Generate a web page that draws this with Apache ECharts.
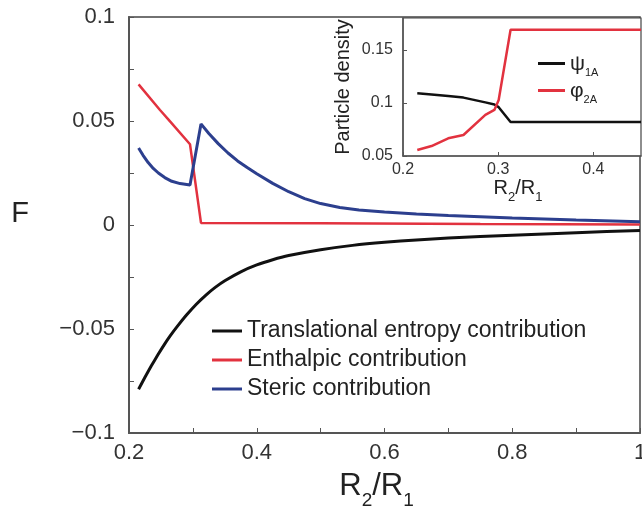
<!DOCTYPE html>
<html>
<head>
<meta charset="utf-8">
<script src="https://cdn.jsdelivr.net/npm/echarts@6/dist/echarts.min.js"></script>
<style>html,body{margin:0;padding:0;background:#fff;}#c{width:642px;height:510px;}</style>
</head>
<body>
<div id="c"></div>
<script>
// ---- main panel data ----
const transX = [0.215, 0.225, 0.235, 0.245, 0.255, 0.265, 0.275, 0.29, 0.305, 0.32, 0.335, 0.35, 0.375, 0.4, 0.425, 0.45, 0.5, 0.55, 0.6, 0.65, 0.7, 0.8, 0.9, 1.0];
const transY = [-0.079, -0.0732, -0.0677, -0.0625, -0.0576, -0.0531, -0.049, -0.0433, -0.0382, -0.0338, -0.030, -0.0268, -0.0225, -0.0192, -0.0167, -0.0147, -0.0119, -0.0098, -0.0083, -0.0072, -0.0063, -0.0049, -0.0037, -0.0026];
const enthX = [0.215, 0.2485, 0.2615, 0.2955, 0.3127, 0.5, 0.75, 1.0];
const enthY = [0.0676, 0.0553, 0.0508, 0.0388, 0.001, 0.0008, 0.0005, 0.0003];
const stericX = [0.215, 0.222, 0.23, 0.238, 0.246, 0.256, 0.267, 0.28, 0.2955, 0.3127, 0.325, 0.34, 0.355, 0.37, 0.385, 0.4, 0.425, 0.45, 0.475, 0.5, 0.53, 0.56, 0.6, 0.65, 0.7, 0.8, 0.9, 1.0];
const stericY = [0.037, 0.0335, 0.030, 0.0272, 0.025, 0.0228, 0.021, 0.0199, 0.0192, 0.0486, 0.044, 0.039, 0.0346, 0.0308, 0.0276, 0.0246, 0.020, 0.016, 0.0127, 0.0103, 0.0084, 0.0072, 0.0062, 0.0053, 0.0046, 0.0034, 0.0024, 0.0016];
const mainNames = ['Translational entropy contribution', 'Enthalpic contribution', 'Steric contribution'];
const mainXTicks = [0.2, 0.4, 0.6, 0.8, 1];
const mainYTicks = [-0.1, -0.05, 0, 0.05, 0.1];

// ---- inset data ----
const insetX = [0.215, 0.23, 0.2475, 0.2635, 0.2865, 0.296, 0.3005, 0.313, 0.45];
const psi1A = [0.109, 0.108, 0.1065, 0.105, 0.1005, 0.0985, 0.096, 0.082, 0.082];
const phi2A = [0.0557, 0.0594, 0.0667, 0.0698, 0.0887, 0.0934, 0.1028, 0.169, 0.169];
const insetNames = ['psi1A', 'phi2A'];
const insetXTicks = [0.2, 0.3, 0.4];
const insetYTicks = [0.05, 0.1, 0.15];

const pair = (xs, ys) => xs.map((x, i) => [x, ys[i]]);
const fmtMinus = v => String(v).replace('-', '\u2212');
const FONT = 'Liberation Sans, Arial, Helvetica, sans-serif';
const BLACK = '#111111', RED = '#e2323f', BLUE = '#2c3f8e';

const chart = echarts.init(document.getElementById('c'), null, {renderer: 'canvas'});
chart.setOption({
  animation: false,
  backgroundColor: '#fff',
  textStyle: {fontFamily: FONT},
  grid: [
    {left: 129, top: 17, right: 2, bottom: 77, show: true, borderColor: '#444', borderWidth: 1.5, containLabel: false, outerBoundsMode: 'none'},
    {left: 403, top: 18, width: 238, height: 138, show: true, borderColor: '#444', borderWidth: 1.2, backgroundColor: '#fff', containLabel: false, outerBoundsMode: 'none'}
  ],
  xAxis: [
    {gridIndex: 0, type: 'value', min: 0.2, max: 1, interval: 0.2,
     axisLine: {onZero: false, lineStyle: {color: '#555', width: 2}},
     axisTick: {inside: true, length: 5, lineStyle: {color: '#555'}},
     minorTick: {show: true, splitNumber: 2, length: 5, lineStyle: {color: '#555'}},
     splitLine: {show: false},
     axisLabel: {fontSize: 22, color: '#333', margin: 9, formatter: v => mainXTicks.includes(+v.toFixed(2)) ? String(+v.toFixed(2)) : ''},
     name: '{r|R}{s|2}{r|/R}{s|1}', nameLocation: 'middle', nameGap: 35,
     nameTextStyle: {padding: [0, 16, 0, 0], rich: {
       r: {fontSize: 31, color: '#222', fontFamily: FONT, lineHeight: 34, verticalAlign: 'bottom'},
       s: {fontSize: 19, color: '#222', fontFamily: FONT, lineHeight: 34, verticalAlign: 'bottom', padding: [0, 0, -8, 0]}
     }}},
    {gridIndex: 1, type: 'value', min: 0.2, max: 0.45, interval: 0.1,
     axisLine: {onZero: false, lineStyle: {color: '#555', width: 1.5}},
     axisTick: {inside: true, length: 4, lineStyle: {color: '#555'}},
     splitLine: {show: false},
     axisLabel: {fontSize: 16, color: '#333', margin: 6, showMaxLabel: false, formatter: v => insetXTicks.includes(+v.toFixed(2)) ? String(+v.toFixed(2)) : ''},
     name: '{r|R}{s|2}{r|/R}{s|1}', nameLocation: 'middle', nameGap: 18,
     nameTextStyle: {padding: [0, 8, 0, 0], rich: {
       r: {fontSize: 20, color: '#222', fontFamily: FONT, lineHeight: 24, verticalAlign: 'bottom'},
       s: {fontSize: 13, color: '#222', fontFamily: FONT, lineHeight: 24, verticalAlign: 'bottom', padding: [0, 0, -5, 0]}
     }}}
  ],
  yAxis: [
    {gridIndex: 0, type: 'value', min: -0.1, max: 0.1, interval: 0.05,
     axisLine: {onZero: false, lineStyle: {color: '#555', width: 2}},
     axisTick: {inside: true, length: 5, lineStyle: {color: '#555'}},
     minorTick: {show: true, splitNumber: 2, length: 5, lineStyle: {color: '#555'}},
     splitLine: {show: false},
     axisLabel: {fontSize: 22, color: '#333', margin: 14, formatter: v => {
       const r = +v.toFixed(3); return mainYTicks.includes(r) ? fmtMinus(r) : ''; }},
     name: 'F', nameLocation: 'middle', nameGap: 100, nameRotate: 0,
     nameTextStyle: {fontSize: 29, color: '#222', fontFamily: FONT, verticalAlign: 'bottom', lineHeight: 22}},
    {gridIndex: 1, type: 'value', min: 0.05, max: 0.18, interval: 0.05,
     axisLine: {onZero: false, lineStyle: {color: '#555', width: 1.5}},
     axisTick: {inside: true, length: 4, lineStyle: {color: '#555'}},
     splitLine: {show: false},
     axisLabel: {fontSize: 16, color: '#333', margin: 10, showMaxLabel: false, formatter: v => {
       const r = +v.toFixed(3); return insetYTicks.includes(r) ? String(r) : ''; }},
     name: 'Particle density', nameLocation: 'middle', nameGap: 50,
     nameTextStyle: {fontSize: 20, color: '#222', fontFamily: FONT}}
  ],
  legend: [
    {data: mainNames, orient: 'vertical', left: 207, top: 314, icon: 'rect', itemWidth: 30, itemHeight: 3, itemGap: 5,
     textStyle: {fontSize: 23, color: '#222', fontFamily: FONT, lineHeight: 24}, selectedMode: false},
    {data: insetNames, orient: 'vertical', left: 533, top: 49, icon: 'rect', itemWidth: 27, itemHeight: 3, itemGap: 3,
     selectedMode: false,
     formatter: n => n === 'psi1A' ? '{g|\u03c8}{s|1A}' : '{g|\u03c6}{s|2A}',
     textStyle: {fontFamily: FONT, rich: {
       g: {fontSize: 21, color: '#222', fontFamily: FONT, lineHeight: 23, verticalAlign: 'bottom'},
       s: {fontSize: 11, color: '#222', fontFamily: FONT, lineHeight: 23, verticalAlign: 'bottom', padding: [0, 0, -3, 0]}
     }}}
  ],
  series: [
    {name: mainNames[0], type: 'line', xAxisIndex: 0, yAxisIndex: 0, data: pair(transX, transY), smooth: 0.2, showSymbol: false, lineStyle: {color: BLACK, width: 3}, itemStyle: {color: BLACK}},
    {name: mainNames[1], type: 'line', xAxisIndex: 0, yAxisIndex: 0, data: pair(enthX, enthY), showSymbol: false, lineStyle: {color: RED, width: 2.5}, itemStyle: {color: RED}},
    {name: mainNames[2], type: 'line', xAxisIndex: 0, yAxisIndex: 0, data: pair(stericX, stericY), showSymbol: false, lineStyle: {color: BLUE, width: 3}, itemStyle: {color: BLUE}},
    {name: insetNames[0], type: 'line', xAxisIndex: 1, yAxisIndex: 1, data: pair(insetX, psi1A), showSymbol: false, lineStyle: {color: BLACK, width: 2.5}, itemStyle: {color: BLACK}},
    {name: insetNames[1], type: 'line', xAxisIndex: 1, yAxisIndex: 1, data: pair(insetX, phi2A), showSymbol: false, lineStyle: {color: RED, width: 2.5}, itemStyle: {color: RED}}
  ]
});
</script>
</body>
</html>
